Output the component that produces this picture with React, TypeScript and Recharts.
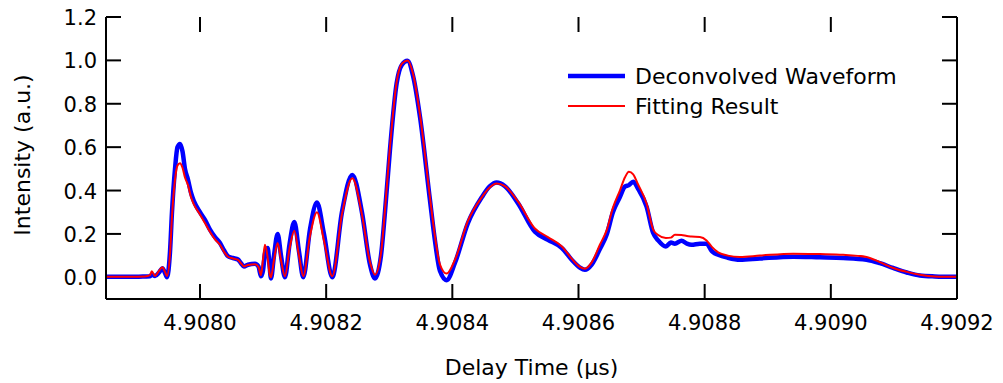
import { LineChart, Line, XAxis, YAxis, Legend, ReferenceLine } from 'recharts';

// delay time in µs
const delayTime = [
  4.907851, 4.9078891, 4.9079128, 4.9079208, 4.9079235, 4.9079287, 4.907935, 4.9079403, 4.9079445, 4.9079477,
  4.9079525, 4.9079556, 4.9079604, 4.9079643, 4.9079683, 4.9079723, 4.9079762, 4.907981, 4.9079857, 4.9079905,
  4.908, 4.9080079, 4.9080158, 4.9080238, 4.9080317, 4.908038, 4.9080444, 4.9080523, 4.9080602, 4.908065,
  4.9080697, 4.9080761, 4.9080872, 4.9080927, 4.9080967, 4.9080998, 4.908103, 4.9081073, 4.9081101, 4.9081125,
  4.9081173, 4.9081231, 4.9081284, 4.9081347, 4.9081418, 4.9081495, 4.9081569, 4.9081637, 4.9081743, 4.9081854,
  4.9081965, 4.9082097, 4.908225, 4.9082414, 4.9082567, 4.9082694, 4.9082773, 4.9082869, 4.9082932, 4.9083011,
  4.9083117, 4.9083201, 4.9083289, 4.9083376, 4.9083487, 4.9083645, 4.9083724, 4.9083803, 4.908391, 4.9084041,
  4.9084247, 4.9084469, 4.9084596, 4.9084702, 4.9084834, 4.908504, 4.9085309, 4.9085515, 4.9085737, 4.9085895,
  4.9086022, 4.9086101, 4.9086212, 4.9086339, 4.908645, 4.9086545, 4.9086656, 4.9086735, 4.9086799, 4.9086867,
  4.9086941, 4.9087079, 4.9087184, 4.9087263, 4.9087385, 4.9087464, 4.9087528, 4.9087634, 4.9087718, 4.9087792,
  4.9087924, 4.908803, 4.9088114, 4.9088214, 4.9088368, 4.9088558, 4.9088875, 4.9089403, 4.9089826, 4.9090195,
  4.9090566, 4.9090777, 4.9090987, 4.9091205, 4.9091411, 4.9091648, 4.9092,
];

const deconvolved = [
  0.002, 0.002, 0.004, 0.005, 0.012, 0.006, 0.022, 0.042, 0.02, 0.0,
  0.12, 0.3, 0.5, 0.6, 0.615, 0.58, 0.5, 0.45, 0.39, 0.35,
  0.3, 0.265, 0.22, 0.185, 0.158, 0.125, 0.097, 0.089, 0.082, 0.065,
  0.05, 0.058, 0.062, 0.05, 0.005, 0.03, 0.11, 0.135, 0.06, -0.005,
  0.1, 0.2, 0.1, 0.0, 0.15, 0.255, 0.12, 0.0, 0.22, 0.345,
  0.2, 0.0, 0.3, 0.472, 0.3, 0.06, -0.005, 0.1, 0.3, 0.587,
  0.894, 0.98, 0.998, 0.93, 0.74, 0.357, 0.17, 0.03, -0.013, 0.066,
  0.25, 0.37, 0.42, 0.437, 0.42, 0.342, 0.21, 0.173, 0.135, 0.08,
  0.045, 0.035, 0.06, 0.13, 0.2, 0.3, 0.37, 0.418, 0.425, 0.441,
  0.41, 0.326, 0.204, 0.17, 0.142, 0.16, 0.155, 0.169, 0.155, 0.15,
  0.155, 0.155, 0.12, 0.104, 0.09, 0.081, 0.087, 0.095, 0.092, 0.089,
  0.081, 0.065, 0.043, 0.022, 0.008, 0.004, 0.002,
];

const fitting = [
  0.003, 0.003, 0.004, 0.01, 0.028, 0.006, 0.03, 0.046, 0.025, 0.006,
  0.11, 0.28, 0.45, 0.515, 0.526, 0.505, 0.46, 0.425, 0.37, 0.335,
  0.29, 0.25, 0.21, 0.175, 0.15, 0.118, 0.095, 0.087, 0.08, 0.065,
  0.05, 0.057, 0.06, 0.048, 0.01, 0.08, 0.15, 0.09, 0.02, 0.0,
  0.08, 0.158, 0.08, 0.005, 0.13, 0.215, 0.1, 0.005, 0.19, 0.3,
  0.17, 0.005, 0.29, 0.457, 0.29, 0.07, 0.012, 0.11, 0.31, 0.6,
  0.9, 0.985, 1.0, 0.94, 0.75, 0.37, 0.19, 0.06, 0.017, 0.08,
  0.26, 0.37, 0.415, 0.432, 0.42, 0.35, 0.225, 0.185, 0.142, 0.085,
  0.048, 0.04, 0.07, 0.15, 0.22, 0.32, 0.4, 0.46, 0.487, 0.475,
  0.43, 0.34, 0.22, 0.195, 0.181, 0.183, 0.196, 0.195, 0.19, 0.188,
  0.186, 0.17, 0.14, 0.115, 0.1, 0.094, 0.1, 0.109, 0.107, 0.104,
  0.094, 0.07, 0.043, 0.025, 0.012, 0.004, 0.002,
];

const xTicks = [4.908, 4.9082, 4.9084, 4.9086, 4.9088, 4.909, 4.9092];
const yTicks = [0, 0.2, 0.4, 0.6, 0.8, 1.0, 1.2];

const X_MIN = 4.907851;
const X_MAX = 4.9092;
const Y_MIN = -0.1;
const Y_MAX = 1.2;

// inward tick marks, 15px long (plot is 851 x 282 px)
const TICK_DX = (15 * (X_MAX - X_MIN)) / 851;
const TICK_DY = (15 * (Y_MAX - Y_MIN)) / 282;

const FONT = '"DejaVu Sans", sans-serif';

const data = delayTime.map((t, i) => ({
  t,
  deconvolved: deconvolved[i],
  fitting: fitting[i],
}));

const BottomTick = (props: any) => {
  const { x, y, payload } = props;
  return (
    <text x={x} y={y + 31} textAnchor="middle" fontFamily={FONT} fontSize={21} fill="#000">
      {Number(payload.value).toFixed(4)}
    </text>
  );
};

const LeftTick = (props: any) => {
  const { x, y, payload } = props;
  return (
    <text x={x - 9} y={y + 8} textAnchor="end" fontFamily={FONT} fontSize={21} fill="#000">
      {Number(payload.value).toFixed(1)}
    </text>
  );
};

const legendWidths: Record<string, number> = {
  'Deconvolved Waveform': 4.5,
  'Fitting Result': 2,
};

const renderLegend = ({ payload }: any) => (
  <div style={{ fontFamily: FONT, fontSize: 22, color: '#000' }}>
    {(payload || []).map((item: any) => (
      <div key={item.value} style={{ display: 'flex', alignItems: 'center', height: 30 }}>
        <svg width={57} height={10}>
          <line x1={0} x2={57} y1={5} y2={5} stroke={item.color} strokeWidth={legendWidths[item.value]} />
        </svg>
        <span style={{ marginLeft: 10 }}>{item.value}</span>
      </div>
    ))}
  </div>
);

const tickMarks = [
  ...xTicks.map((t) => [{ x: t, y: Y_MIN + TICK_DY }, { x: t, y: Y_MIN }]),
  ...xTicks.map((t) => [{ x: t, y: Y_MAX - TICK_DY }, { x: t, y: Y_MAX }]),
  ...yTicks.map((v) => [{ x: X_MIN + TICK_DX, y: v }, { x: X_MIN, y: v }]),
  ...yTicks.map((v) => [{ x: X_MAX - TICK_DX, y: v }, { x: X_MAX, y: v }]),
];

const App = () => {
  return (
    <div style={{ position: 'absolute', left: 0, top: 0, background: '#fff' }}>
      <LineChart
        width={1003}
        height={383}
        data={data}
        margin={{ top: 17, right: 45, left: 0, bottom: 0 }}
      >
        <XAxis
          dataKey="t"
          type="number"
          domain={[X_MIN, X_MAX]}
          allowDataOverflow
          ticks={xTicks}
          interval={0}
          height={84}
          tickSize={0}
          tickMargin={0}
          tickLine={false}
          axisLine={{ stroke: '#000', strokeWidth: 2 }}
          tick={<BottomTick />}
          label={(p: any) => {
            const vb = p.viewBox;
            return (
              <text
                x={vb.x + vb.width / 2}
                y={vb.y + 76}
                textAnchor="middle"
                fontFamily={FONT}
                fontSize={22}
                fill="#000"
              >
                Delay Time (µs)
              </text>
            );
          }}
        />
        <XAxis
          xAxisId="top"
          orientation="top"
          dataKey="t"
          type="number"
          domain={[X_MIN, X_MAX]}
          allowDataOverflow
          height={0}
          tickLine={false}
          axisLine={{ stroke: '#000', strokeWidth: 2 }}
          tick={false}
        />
        <YAxis
          type="number"
          domain={[Y_MIN, Y_MAX]}
          allowDataOverflow
          ticks={yTicks}
          interval={0}
          width={106}
          tickSize={0}
          tickMargin={0}
          tickLine={false}
          axisLine={{ stroke: '#000', strokeWidth: 2 }}
          tick={<LeftTick />}
          label={(p: any) => {
            const vb = p.viewBox;
            const cy = vb.y + vb.height / 2 - 3;
            return (
              <text
                x={22}
                y={cy}
                transform={`rotate(-90, 22, ${cy})`}
                textAnchor="middle"
                dominantBaseline="central"
                fontFamily={FONT}
                fontSize={22}
                fill="#000"
              >
                Intensity (a.u.)
              </text>
            );
          }}
        />
        <YAxis
          yAxisId="right"
          orientation="right"
          type="number"
          domain={[Y_MIN, Y_MAX]}
          allowDataOverflow
          width={1}
          tickLine={false}
          axisLine={{ stroke: '#000', strokeWidth: 2 }}
          tick={false}
        />
        {tickMarks.map((seg, i) => (
          <ReferenceLine key={`tick-${i}`} segment={seg} stroke="#000" strokeWidth={2} ifOverflow="visible" />
        ))}
        <Legend
          layout="vertical"
          align="center"
          verticalAlign="middle"
          content={renderLegend}
          wrapperStyle={{ left: 568, top: 61, width: 'auto', height: 'auto' }}
        />
        <Line
          type="monotone"
          dataKey="deconvolved"
          name="Deconvolved Waveform"
          stroke="#0000ff"
          strokeWidth={4.5}
          strokeLinejoin="round"
          dot={false}
          activeDot={false}
          isAnimationActive={false}
        />
        <Line
          type="monotone"
          dataKey="fitting"
          name="Fitting Result"
          stroke="#ff0000"
          strokeWidth={2}
          strokeLinejoin="round"
          dot={false}
          activeDot={false}
          isAnimationActive={false}
        />
      </LineChart>
    </div>
  );
};

export default App;
